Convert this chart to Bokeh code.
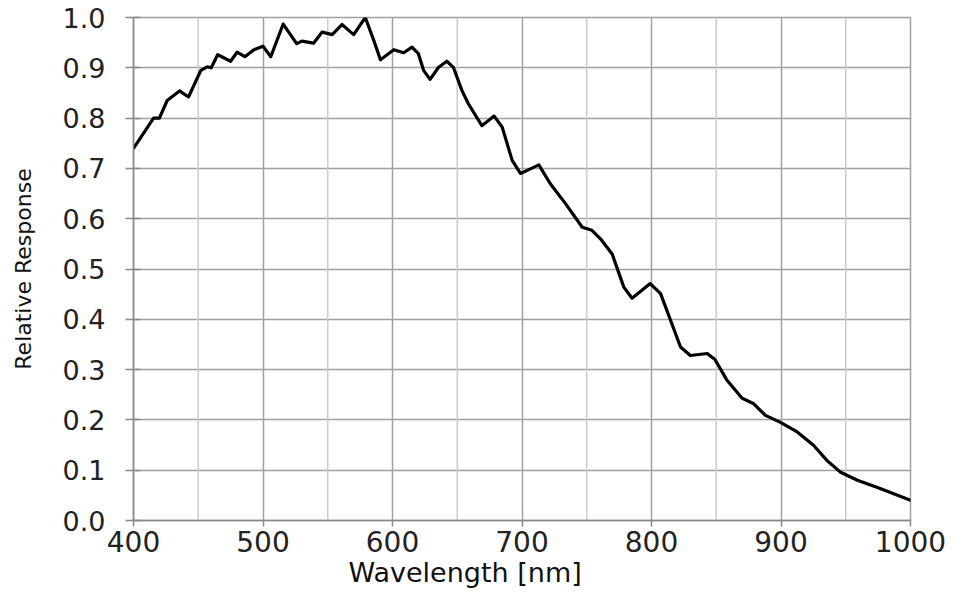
from bokeh.plotting import figure
from bokeh.embed import file_html
from bokeh.resources import INLINE
from bokeh.models import FixedTicker, Range1d, Title

wavelength = [400, 415.5, 420, 426, 435.5, 442.5, 452, 457, 460, 465, 475, 480, 486, 493, 500,
              506, 515.6, 526, 530, 539, 545.7, 553.4, 561, 570, 579, 585.6, 590.7, 601, 608.7,
              615, 620, 624, 629, 635.6, 642, 647, 653.6, 658.7, 669, 678.5, 684.7, 692.4, 698.8,
              704, 713, 722, 733.6, 746.5, 754, 760.6, 769.6, 778.6, 785, 799, 807, 814.7, 822.4,
              830, 843, 849, 858, 870, 879, 888, 899.6, 912.5, 925.3, 935.6, 946, 959, 974, 987, 1000]
response = [0.740, 0.800, 0.800, 0.835, 0.854, 0.842, 0.895, 0.902, 0.900, 0.926, 0.913, 0.931, 0.922, 0.936, 0.943,
            0.922, 0.987, 0.948, 0.953, 0.949, 0.971, 0.966, 0.986, 0.966, 1.000, 0.954, 0.916, 0.936, 0.930,
            0.941, 0.928, 0.895, 0.877, 0.901, 0.913, 0.901, 0.855, 0.828, 0.785, 0.804, 0.782, 0.716, 0.690,
            0.696, 0.707, 0.669, 0.630, 0.583, 0.577, 0.560, 0.530, 0.464, 0.442, 0.471, 0.451, 0.398, 0.345,
            0.328, 0.332, 0.320, 0.280, 0.243, 0.232, 0.209, 0.195, 0.176, 0.149, 0.119, 0.096, 0.080, 0.066, 0.053, 0.040]

x_ticks = [400, 500, 600, 700, 800, 900, 1000]
x_minor_grid = [450, 550, 650, 750, 850, 950]
y_ticks = [0.0, 0.1, 0.2, 0.3, 0.4, 0.5, 0.6, 0.7, 0.8, 0.9, 1.0]

FONT = "DejaVu Sans"

p = figure(width=954, height=602, output_backend="svg", toolbar_location=None,
           x_range=Range1d(400, 1000), y_range=Range1d(0, 1.0),
           min_border_left=133, min_border_right=44, min_border_top=17, min_border_bottom=82)

# light minor vertical grid lines
p.segment(x0=x_minor_grid, y0=[0]*len(x_minor_grid), x1=x_minor_grid, y1=[1.0]*len(x_minor_grid),
          line_color="#cccccc", line_width=1.5)

if hasattr(p, "spline"):
    p.spline(wavelength, response, tension=0.5, line_color="black", line_width=3.2,
             line_join="round", line_cap="round")
else:
    p.line(wavelength, response, line_color="black", line_width=3.2, line_join="round", line_cap="round")

p.xaxis.ticker = FixedTicker(ticks=x_ticks)
p.yaxis.ticker = FixedTicker(ticks=y_ticks)
p.yaxis.major_label_overrides = {t: f"{t:.1f}" for t in y_ticks}
p.xgrid.ticker = FixedTicker(ticks=x_ticks)
p.ygrid.ticker = FixedTicker(ticks=y_ticks)
p.xgrid.grid_line_color = "#a0a0a0"
p.ygrid.grid_line_color = "#a0a0a0"
p.xgrid.grid_line_width = 1.5
p.ygrid.grid_line_width = 1.5

for ax in (p.xaxis, p.yaxis):
    ax.axis_line_color = "#888888"
    ax.axis_line_width = 1.5
    ax.major_tick_line_color = "#888888"
    ax.major_tick_line_width = 1.5
    ax.minor_tick_line_color = None
    ax.major_label_text_font = FONT
    ax.major_label_text_color = "#222222"
    ax.axis_label_text_font = FONT
    ax.axis_label_text_font_style = "normal"
    ax.axis_label_text_color = "#111111"

p.xaxis.major_tick_in = 0
p.xaxis.major_tick_out = 6
p.yaxis.major_tick_in = 7
p.yaxis.major_tick_out = 8

p.xaxis.major_label_text_font_size = "28px"
p.xaxis.major_label_standoff = 4
p.yaxis.major_label_text_font_size = "27px"
p.yaxis.major_label_standoff = 20

p.yaxis.axis_label = "Relative Response"
p.yaxis.axis_label_text_font_size = "22px"
p.yaxis.axis_label_standoff = 24

xlabel = Title(text="Wavelength [nm]", align="left", offset=215,
               text_font=FONT, text_font_size="27px", text_font_style="normal",
               text_color="#111111", standoff=0)
p.add_layout(xlabel, "below")

p.outline_line_color = "#a0a0a0"
p.outline_line_width = 1.5

open("out.html", "w").write(file_html(p, INLINE))
